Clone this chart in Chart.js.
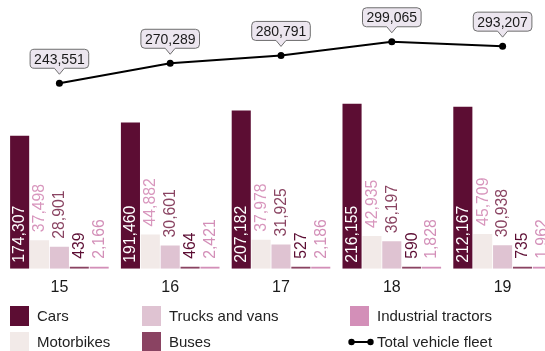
<!DOCTYPE html>
<html>
<head>
<meta charset="utf-8">
<script src="https://cdn.jsdelivr.net/npm/chart.js@4"></script>
<style>
  html, body { margin: 0; padding: 0; background: #fff; overflow: hidden; width: 545px; height: 351px; }
  #wrap { position: absolute; left: 0; top: 0; width: 562px; height: 310px; }
  .lg { position: absolute; font: 15px "Liberation Sans", Arial, sans-serif; color: #222; white-space: nowrap; }
  .sw { position: absolute; width: 19px; height: 20px; }
</style>
</head>
<body>
<div id="wrap"><canvas id="c" width="562" height="310"></canvas></div>
<div id="legend"></div>
<script>
// Registered vehicles by year
const years = ['15', '16', '17', '18', '19'];
const cars = [174307, 191460, 207182, 216155, 212167];
const motorbikes = [37498, 44882, 37978, 42935, 45709];
const trucksVans = [28901, 30601, 31925, 36197, 30938];
const buses = [439, 464, 527, 590, 735];
const tractors = [2166, 2421, 2186, 1828, 1962];
const fleet = [243551, 270289, 280791, 299065, 293207];

const FONT = '"Liberation Sans", Arial, sans-serif';
const fmt = v => v.toLocaleString('en-US');

const series = [
  { label: 'Cars', data: cars, color: '#5c0d33', text: '#ffffff', inside: true },
  { label: 'Motorbikes', data: motorbikes, color: '#f2eae8', text: '#d896bd' },
  { label: 'Trucks and vans', data: trucksVans, color: '#dfc3d2', text: '#8a4462' },
  { label: 'Buses', data: buses, color: '#8a4362', text: '#5c0d33' },
  { label: 'Industrial tractors', data: tractors, color: '#d38fb8', text: '#d38fb8' }
];

// rotated value labels on every bar
const barLabels = {
  id: 'barLabels',
  afterDatasetsDraw(chart) {
    const ctx = chart.ctx;
    series.forEach((s, di) => {
      const meta = chart.getDatasetMeta(di);
      meta.data.forEach((bar, i) => {
        ctx.save();
        ctx.font = '15.8px ' + FONT;
        ctx.fillStyle = s.text;
        ctx.textAlign = 'left';
        ctx.textBaseline = 'middle';
        const y = s.inside ? bar.base - 6 : bar.y - 8;
        ctx.translate(bar.x + 0.5, y);
        ctx.rotate(-Math.PI / 2);
        ctx.fillText(fmt(s.data[i]), 0, 0);
        ctx.restore();
      });
    });
  }
};

// callout boxes above the fleet line points
const callouts = {
  id: 'callouts',
  afterDatasetsDraw(chart) {
    const ctx = chart.ctx;
    const di = series.length;
    const meta = chart.getDatasetMeta(di);
    meta.data.forEach((pt, i) => {
      const txt = fmt(fleet[i]);
      ctx.save();
      ctx.font = '14px ' + FONT;
      const w = ctx.measureText(txt).width + 8;
      const h = 19;
      const x = pt.x, bottom = pt.y - 15, top = bottom - h;
      const l = x - w / 2, r = x + w / 2, rad = 4, tip = pt.y - 9, pw = 5;
      ctx.beginPath();
      ctx.moveTo(l + rad, top);
      ctx.lineTo(r - rad, top);
      ctx.arcTo(r, top, r, top + rad, rad);
      ctx.lineTo(r, bottom - rad);
      ctx.arcTo(r, bottom, r - rad, bottom, rad);
      ctx.lineTo(x + pw, bottom);
      ctx.lineTo(x, tip);
      ctx.lineTo(x - pw, bottom);
      ctx.lineTo(l + rad, bottom);
      ctx.arcTo(l, bottom, l, bottom - rad, rad);
      ctx.lineTo(l, top + rad);
      ctx.arcTo(l, top, l + rad, top, rad);
      ctx.closePath();
      ctx.fillStyle = '#ece6ef';
      ctx.fill();
      ctx.lineWidth = 1;
      ctx.strokeStyle = '#6e6e6e';
      ctx.stroke();
      ctx.fillStyle = '#1a1a1a';
      ctx.textAlign = 'center';
      ctx.textBaseline = 'middle';
      ctx.fillText(txt, x, top + h / 2 + 1);
      ctx.restore();
    });
  }
};

const datasets = series.map(s => ({
  type: 'bar',
  label: s.label,
  data: s.data,
  backgroundColor: s.color,
  borderWidth: 0,
  minBarLength: 2,
  yAxisID: 'y',
  order: 1,
  categoryPercentage: 0.897,
  barPercentage: 0.96
}));
datasets.push({
  type: 'line',
  label: 'Total vehicle fleet',
  data: fleet,
  borderColor: '#000',
  backgroundColor: '#000',
  borderWidth: 2,
  pointRadius: 3.5,
  pointBackgroundColor: '#000',
  pointBorderWidth: 0,
  tension: 0,
  yAxisID: 'y2',
  order: 0
});

new Chart(document.getElementById('c'), {
  data: { labels: years, datasets },
  options: {
    responsive: false,
    animation: false,
    devicePixelRatio: 1,
    layout: { padding: { left: 3, right: 1.5, top: 0, bottom: 4 } },
    plugins: { legend: { display: false }, tooltip: { enabled: false } },
    scales: {
      x: {
        offset: true,
        grid: { display: false, drawTicks: false },
        border: { display: false },
        ticks: { color: '#1a1a1a', font: { family: FONT, size: 16 }, padding: 9 }
      },
      y: { display: false, min: 0, max: 346800 },
      y2: { display: false, min: -4700, max: 349600 }
    }
  },
  plugins: [barLabels, callouts]
});

// legend: three columns, two rows, filled column by column
const legendItems = series.map(s => ({ label: s.label, color: s.color }))
  .concat([{ label: 'Total vehicle fleet', line: true }]);
const colX = [10, 142, 350];
const rowY = [306, 332];
const lg = document.getElementById('legend');
legendItems.forEach((it, k) => {
  const col = Math.floor(k / 2), row = k % 2;
  const x = colX[col], y = rowY[row];
  if (it.line) {
    const c = document.createElement('canvas');
    c.width = 26; c.height = 10;
    c.style.cssText = `position:absolute;left:${x - 2}px;top:${y + 5}px;`;
    const g = c.getContext('2d');
    g.strokeStyle = '#000'; g.lineWidth = 2;
    g.beginPath(); g.moveTo(3, 5); g.lineTo(23, 5); g.stroke();
    g.fillStyle = '#000';
    [3.5, 22.5].forEach(px => { g.beginPath(); g.arc(px, 5, 3.2, 0, Math.PI * 2); g.fill(); });
    lg.appendChild(c);
  } else {
    const sw = document.createElement('div');
    sw.className = 'sw';
    sw.style.left = x + 'px';
    sw.style.top = y + 'px';
    sw.style.background = it.color;
    lg.appendChild(sw);
  }
  const t = document.createElement('div');
  t.className = 'lg';
  t.textContent = it.label;
  t.style.left = (x + 27) + 'px';
  t.style.top = (y + 1) + 'px';
  lg.appendChild(t);
});
</script>
</body>
</html>
